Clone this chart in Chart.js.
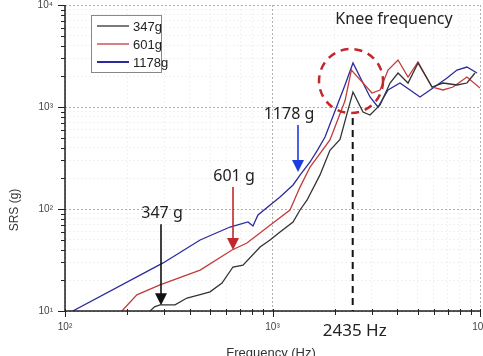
<!DOCTYPE html>
<html>
<head>
<meta charset="utf-8">
<script src="https://cdn.jsdelivr.net/npm/chart.js@4.4.1/dist/chart.umd.min.js"></script>
<style>
  body { margin: 0; background: #fff; }
  canvas { display: block; }
</style>
</head>
<body>
<canvas id="srsChart" width="483" height="356"></canvas>
<script>
// Series data (frequency in Hz, SRS in g)
const seriesNames = ['347g', '601g', '1178g'];
const seriesColors = ['#333333', '#c43a3a', '#2b2b9e'];

const freq347 = [257, 270, 287, 339, 387, 448, 500, 571, 645, 721, 871, 973, 1087, 1256, 1357, 1466, 1694, 1892, 2115, 2300, 2443, 2730, 2951, 3298, 3685, 4027, 4500, 5027, 5872, 6635, 7745, 8650, 9460];
const srs347 = [10, 11, 11.5, 11.5, 13.4, 14.5, 15.4, 18.8, 27, 28.2, 42.4, 49.7, 59.5, 74.6, 97.8, 122, 216, 376, 480, 900, 1403, 893, 835, 1047, 1718, 2155, 1718, 2700, 1570, 1718, 1644, 1718, 2155];

const freq601 = [188, 222, 287, 448, 638, 753, 1005, 1214, 1357, 1517, 1892, 2236, 2400, 3017, 3298, 3604, 4027, 4500, 5027, 5872, 6635, 7413, 8650, 10000];
const srs601 = [10, 14.4, 18.0, 25.2, 39.6, 46.4, 72.9, 97.8, 164, 258, 475, 1150, 2300, 1372, 1468, 2305, 2890, 1968, 2762, 1570, 1468, 1570, 1968, 1535];

const freq1178 = [109, 297, 448, 624, 762, 805, 851, 1087, 1256, 1357, 1517, 1650, 1791, 2236, 2443, 2951, 3224, 3604, 4115, 4600, 5137, 5935, 6935, 7745, 8650, 9680];
const srs1178 = [10, 29.6, 49.7, 66.6, 74.6, 68.1, 87.3, 131, 172, 215, 289, 380, 508, 1644, 2700, 1253, 1000, 1468, 1718, 1468, 1253, 1535, 1924, 2305, 2466, 2155];

// Axis ticks
const xDecades = [100, 1000, 10000];
const xDecadeLabels = ['10\u00B2', '10\u00B3', '10\u2074'];
const yDecades = [10, 100, 1000, 10000];
const yDecadeLabels = ['10\u00B9', '10\u00B2', '10\u00B3', '10\u2074'];

// Annotations
const kneeFreq = 2435;
const kneeLabel = '2435 Hz';
const kneeTitle = 'Knee frequency';
const arrowNames = ['347 g', '601 g', '1178 g'];
const arrowFreqs = [290, 645, 1329];
const arrowTops = [71, 164, 666];
const arrowTips = [11.4, 39.6, 230];
const arrowColors = ['#111111', '#c0282d', '#1c3ee0'];

function toPoints(fs, vs) {
    return fs.map((f, i) => ({ x: f, y: vs[i] }));
}

function minorTicks(decades) {
    const out = [];
    decades.forEach((d, i) => {
        out.push(d);
        if (i < decades.length - 1) {
            for (let k = 2; k <= 9; k++) out.push(d * k);
        }
    });
    return out;
}

const decadeLabel = (decades, labels) => (value) => {
    const i = decades.indexOf(value);
    return i >= 0 ? labels[i] : '';
};

const gridColor = (decades) => (ctx) => {
    if (!ctx.tick) return 'rgba(0,0,0,0)';
    return decades.includes(ctx.tick.value) ? '#b0b0b0' : '#f2f2f2';
};

// Extra drawing: axes, tick marks, legend, arrows, knee marker
const annotate = {
    id: 'annotate',
    afterDatasetsDraw(chart) {
        const { ctx, scales: { x, y }, chartArea: area } = chart;
        ctx.save();

        // axis lines and tick marks
        ctx.strokeStyle = '#222';
        ctx.lineWidth = 1.5;
        ctx.beginPath();
        ctx.moveTo(area.left, area.top);
        ctx.lineTo(area.left, area.bottom);
        ctx.lineTo(area.right, area.bottom);
        ctx.stroke();
        ctx.lineWidth = 1;
        x.ticks.forEach(t => {
            const px = Math.round(x.getPixelForValue(t.value)) + 0.5;
            const len = xDecades.includes(t.value) ? 6 : 4;
            ctx.beginPath();
            ctx.moveTo(px, area.bottom - 2);
            ctx.lineTo(px, area.bottom + len);
            ctx.stroke();
        });
        y.ticks.forEach(t => {
            const py = Math.round(y.getPixelForValue(t.value)) + 0.5;
            const len = yDecades.includes(t.value) ? 7 : 4;
            ctx.beginPath();
            ctx.moveTo(area.left - len, py);
            ctx.lineTo(area.left, py);
            ctx.stroke();
        });

        // knee dashed line
        const kx = x.getPixelForValue(kneeFreq);
        ctx.strokeStyle = '#111';
        ctx.lineWidth = 2;
        ctx.setLineDash([7, 5]);
        ctx.beginPath();
        ctx.moveTo(kx, y.getPixelForValue(780));
        ctx.lineTo(kx, area.bottom);
        ctx.stroke();

        // red dashed circle
        ctx.strokeStyle = '#c0282d';
        ctx.lineWidth = 2.5;
        ctx.setLineDash([8, 6]);
        ctx.beginPath();
        ctx.arc(x.getPixelForValue(2390), y.getPixelForValue(1800), 32, 0, Math.PI * 2);
        ctx.stroke();
        ctx.setLineDash([]);

        // arrows with labels
        ctx.font = '16px "Noto Sans", sans-serif';
        ctx.textAlign = 'center';
        ctx.textBaseline = 'alphabetic';
        arrowNames.forEach((name, i) => {
            const ax = Math.round(x.getPixelForValue(arrowFreqs[i]));
            const top = y.getPixelForValue(arrowTops[i]);
            const tip = y.getPixelForValue(arrowTips[i]);
            ctx.strokeStyle = arrowColors[i];
            ctx.fillStyle = arrowColors[i];
            ctx.lineWidth = 1.6;
            ctx.beginPath();
            ctx.moveTo(ax, top);
            ctx.lineTo(ax, tip - 10);
            ctx.stroke();
            ctx.beginPath();
            ctx.moveTo(ax - 6, tip - 12);
            ctx.lineTo(ax + 6, tip - 12);
            ctx.lineTo(ax, tip);
            ctx.closePath();
            ctx.fill();
            ctx.fillStyle = '#222';
            ctx.fillText(name, ax + (i === 2 ? -9 : 1), top - 6);
        });

        ctx.fillStyle = '#222';
        ctx.fillText(kneeTitle, 394, 24);
        ctx.font = '17px "Noto Sans", sans-serif';
        ctx.fillText(kneeLabel, kx + 2, 336);

        // axis titles
        ctx.font = '13px "Liberation Sans", sans-serif';
        ctx.fillStyle = '#333';
        ctx.fillText('Frequency (Hz)', 271, 357);
        ctx.save();
        ctx.translate(18, 210);
        ctx.rotate(-Math.PI / 2);
        ctx.font = '12px "Liberation Sans", sans-serif';
        ctx.fillText('SRS (g)', 0, 0);
        ctx.restore();

        // legend
        ctx.fillStyle = '#fff';
        ctx.fillRect(91, 15, 71, 58);
        ctx.strokeStyle = '#888';
        ctx.lineWidth = 1;
        ctx.strokeRect(91.5, 15.5, 70, 57);
        ctx.font = '13px "Liberation Sans", sans-serif';
        ctx.textAlign = 'left';
        ctx.textBaseline = 'middle';
        seriesNames.forEach((name, i) => {
            const ly = 26 + i * 18;
            ctx.strokeStyle = seriesColors[i];
            ctx.lineWidth = i === 2 ? 2 : 1.3;
            ctx.beginPath();
            ctx.moveTo(97, ly);
            ctx.lineTo(129, ly);
            ctx.stroke();
            ctx.fillStyle = '#222';
            ctx.fillText(name, 133, ly + 1);
        });

        ctx.restore();
    }
};

const ctx = document.getElementById('srsChart').getContext('2d');
const srsChart = new Chart(ctx, {
    type: 'line',
    data: {
        datasets: [
            { label: seriesNames[0], data: toPoints(freq347, srs347), borderColor: seriesColors[0] },
            { label: seriesNames[1], data: toPoints(freq601, srs601), borderColor: seriesColors[1] },
            { label: seriesNames[2], data: toPoints(freq1178, srs1178), borderColor: seriesColors[2] }
        ]
    },
    options: {
        responsive: false,
        animation: false,
        devicePixelRatio: 1,
        layout: { padding: { top: 5, right: 3, left: 0, bottom: 0 } },
        elements: {
            line: { borderWidth: 1.3, tension: 0 },
            point: { radius: 0 }
        },
        plugins: {
            legend: { display: false },
            tooltip: { enabled: false }
        },
        scales: {
            x: {
                type: 'logarithmic',
                min: 100,
                max: 10000,
                afterFit: s => { s.height = 45; s.paddingLeft = 0; s.paddingRight = 0; },
                afterBuildTicks: s => { s.ticks = minorTicks(xDecades).map(v => ({ value: v })); },
                grid: { color: gridColor(xDecades), drawTicks: false },
                border: { display: false, dash: [2, 2] },
                ticks: {
                    autoSkip: false,
                    maxRotation: 0,
                    padding: 10,
                    color: '#444',
                    font: { family: 'Liberation Sans', size: 10 },
                    callback: decadeLabel(xDecades, xDecadeLabels)
                }
            },
            y: {
                type: 'logarithmic',
                min: 10,
                max: 10000,
                afterFit: s => { s.width = 65; s.paddingTop = 0; s.paddingBottom = 0; },
                afterBuildTicks: s => { s.ticks = minorTicks(yDecades).map(v => ({ value: v })); },
                grid: { color: gridColor(yDecades), drawTicks: false },
                border: { display: false, dash: [2, 2] },
                ticks: {
                    autoSkip: false,
                    padding: 12,
                    color: '#444',
                    font: { family: 'Liberation Sans', size: 10 },
                    callback: decadeLabel(yDecades, yDecadeLabels)
                }
            }
        }
    },
    plugins: [annotate]
});
</script>
</body>
</html>
